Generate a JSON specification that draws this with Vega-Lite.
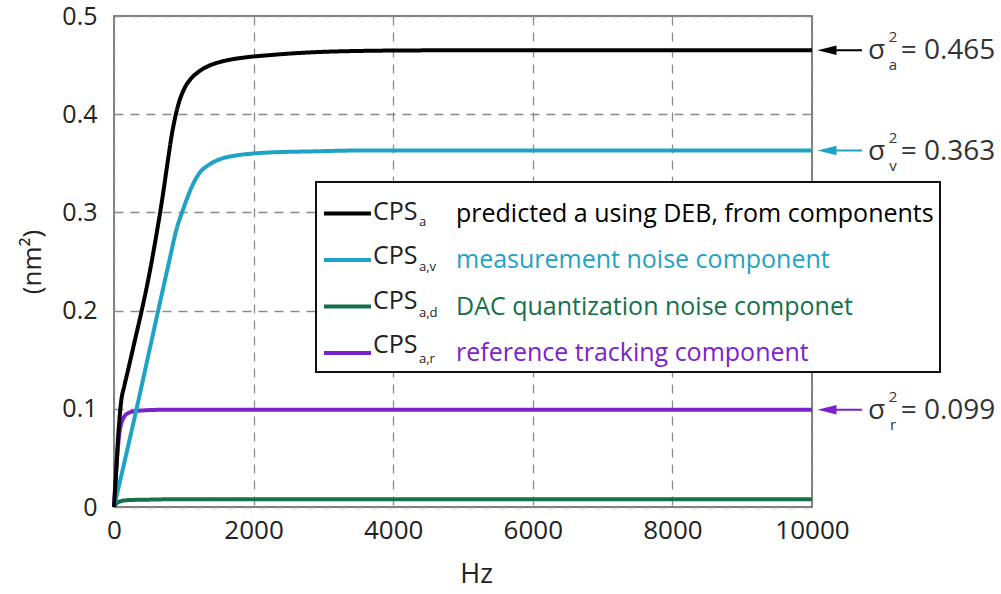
{
  "$schema": "https://vega.github.io/schema/vega-lite/v6.json",
  "width": 698,
  "height": 491,
  "autosize": {"type": "none"},
  "padding": {"left": 114, "top": 16, "right": 189, "bottom": 87},
  "background": "white",
  "config": {
    "font": "Open Sans",
    "view": {"stroke": "#555555", "strokeWidth": 1.5},
    "axis": {
      "domain": false,
      "ticks": false,
      "grid": true,
      "gridColor": "#8c8c8c",
      "gridDash": [9, 7],
      "gridWidth": 1.3,
      "labelColor": "#222222",
      "titleColor": "#222222",
      "titleFontWeight": "normal",
      "labelFont": "Open Sans",
      "titleFont": "Open Sans"
    }
  },
  "datasets": {
    "series": [
      {"s": "a", "desc": "predicted a using DEB, from components", "sub": "a"},
      {"s": "av", "desc": "measurement noise component", "sub": "a,v"},
      {"s": "ad", "desc": "DAC quantization noise componet", "sub": "a,d"},
      {"s": "ar", "desc": "reference tracking component", "sub": "a,r"}
    ],
    "notes": [
      {"s": "a", "value": 0.465, "sym": "a", "label": "= 0.465"},
      {"s": "av", "value": 0.363, "sym": "v", "label": "= 0.363"},
      {"s": "ar", "value": 0.099, "sym": "r", "label": "= 0.099"}
    ],
    "curves": [
      {"s": "ad", "hz": 0, "v": 0}, {"s": "ad", "hz": 40, "v": 0.004}, {"s": "ad", "hz": 100, "v": 0.006}, {"s": "ad", "hz": 200, "v": 0.007}, {"s": "ad", "hz": 500, "v": 0.0075}, {"s": "ad", "hz": 1000, "v": 0.008}, {"s": "ad", "hz": 10000, "v": 0.008},
      {"s": "ar", "hz": 0, "v": 0}, {"s": "ar", "hz": 25, "v": 0.03}, {"s": "ar", "hz": 50, "v": 0.055}, {"s": "ar", "hz": 75, "v": 0.074}, {"s": "ar", "hz": 100, "v": 0.084}, {"s": "ar", "hz": 130, "v": 0.09}, {"s": "ar", "hz": 170, "v": 0.094}, {"s": "ar", "hz": 215, "v": 0.096}, {"s": "ar", "hz": 300, "v": 0.0975}, {"s": "ar", "hz": 450, "v": 0.0985}, {"s": "ar", "hz": 700, "v": 0.099}, {"s": "ar", "hz": 10000, "v": 0.099},
      {"s": "av", "hz": 0, "v": 0}, {"s": "av", "hz": 160, "v": 0.049}, {"s": "av", "hz": 317, "v": 0.098}, {"s": "av", "hz": 475, "v": 0.149}, {"s": "av", "hz": 633, "v": 0.2}, {"s": "av", "hz": 790, "v": 0.25}, {"s": "av", "hz": 900, "v": 0.284}, {"s": "av", "hz": 975, "v": 0.3}, {"s": "av", "hz": 1040, "v": 0.313}, {"s": "av", "hz": 1120, "v": 0.327}, {"s": "av", "hz": 1223, "v": 0.34}, {"s": "av", "hz": 1350, "v": 0.348}, {"s": "av", "hz": 1511, "v": 0.354}, {"s": "av", "hz": 1750, "v": 0.358}, {"s": "av", "hz": 2000, "v": 0.36}, {"s": "av", "hz": 2400, "v": 0.3615}, {"s": "av", "hz": 2763, "v": 0.362}, {"s": "av", "hz": 3500, "v": 0.363}, {"s": "av", "hz": 10000, "v": 0.363},
      {"s": "a", "hz": 0, "v": 0}, {"s": "a", "hz": 30, "v": 0.035}, {"s": "a", "hz": 60, "v": 0.072}, {"s": "a", "hz": 100, "v": 0.106}, {"s": "a", "hz": 150, "v": 0.124}, {"s": "a", "hz": 200, "v": 0.139}, {"s": "a", "hz": 300, "v": 0.17}, {"s": "a", "hz": 400, "v": 0.201}, {"s": "a", "hz": 489, "v": 0.231}, {"s": "a", "hz": 590, "v": 0.27}, {"s": "a", "hz": 690, "v": 0.313}, {"s": "a", "hz": 770, "v": 0.352}, {"s": "a", "hz": 830, "v": 0.38}, {"s": "a", "hz": 880, "v": 0.398}, {"s": "a", "hz": 935, "v": 0.413}, {"s": "a", "hz": 1000, "v": 0.425}, {"s": "a", "hz": 1100, "v": 0.436}, {"s": "a", "hz": 1209, "v": 0.443}, {"s": "a", "hz": 1350, "v": 0.449}, {"s": "a", "hz": 1511, "v": 0.453}, {"s": "a", "hz": 1700, "v": 0.456}, {"s": "a", "hz": 1900, "v": 0.458}, {"s": "a", "hz": 2200, "v": 0.46}, {"s": "a", "hz": 2576, "v": 0.462}, {"s": "a", "hz": 3000, "v": 0.4635}, {"s": "a", "hz": 3500, "v": 0.4644}, {"s": "a", "hz": 4500, "v": 0.465}, {"s": "a", "hz": 10000, "v": 0.465}
    ]
  },
  "layer": [
    {
      "data": {"name": "curves"},
      "transform": [
        {"lookup": "s", "from": {"data": {"name": "series"}, "key": "s", "fields": ["desc", "sub"]}}
      ],
      "mark": {"type": "line", "strokeWidth": 4, "interpolate": "monotone"},
      "encoding": {
        "x": {
          "field": "hz", "type": "quantitative",
          "scale": {"domain": [0, 10000], "nice": false, "zero": false},
          "axis": {
            "title": "Hz", "values": [0, 2000, 4000, 6000, 8000, 10000], "format": "d",
            "labelFontSize": 26, "labelPadding": 10, "titleFontSize": 27,
            "titleX": 362, "titleY": 54, "titleBaseline": "top", "labelFlush": false
          }
        },
        "y": {
          "field": "v", "type": "quantitative",
          "scale": {"domain": [0, 0.5], "nice": false},
          "axis": {
            "title": "(nm²)", "values": [0, 0.1, 0.2, 0.3, 0.4, 0.5],
            "labelExpr": "datum.value == 0 ? '0' : format(datum.value, '.1f')",
            "labelFontSize": 25, "labelPadding": 17, "titleFontSize": 26, "titlePadding": 16
          }
        },
        "color": {
          "field": "desc", "type": "nominal",
          "scale": {
            "domain": ["predicted a using DEB, from components", "measurement noise component", "DAC quantization noise componet", "reference tracking component"],
            "range": ["#000000", "#1fa3c4", "#17704a", "#7a22cc"]
          },
          "legend": {
            "orient": "none", "legendX": 202, "legendY": 166, "title": null,
            "symbolType": "stroke", "symbolSize": 2209, "symbolStrokeWidth": 4,
            "labelOffset": 83, "labelFontSize": 25, "labelFont": "Open Sans", "labelLimit": 0,
            "padding": 6, "rowPadding": 7.5, "strokeColor": "#111111", "fillColor": "white",
            "zindex": 0,
            "encode": {
              "labels": {"update": {"fill": {"scale": "color", "field": "value"}}},
              "legend": {"update": {"strokeWidth": {"value": 2}}}
            }
          }
        },
        "strokeDash": {
          "field": "s", "type": "nominal",
          "scale": {"domain": ["a", "av", "ad", "ar"], "range": [[1, 0], [1, 0], [1, 0], [1, 0]]},
          "legend": {
            "orient": "none", "legendX": 202, "legendY": 166, "title": null,
            "symbolType": "stroke", "symbolSize": 2209, "symbolStrokeWidth": 0, "symbolOpacity": 0,
            "labelOffset": 4, "labelExpr": "'CPS'", "labelFontSize": 25, "labelFont": "Open Sans", "labelColor": "#222222",
            "padding": 6, "rowPadding": 7.5, "zindex": 1,
            "encode": {"symbols": {"update": {"opacity": {"value": 0}}}}
          }
        },
        "opacity": {
          "field": "sub", "type": "nominal",
          "scale": {"domain": ["a", "a,v", "a,d", "a,r"], "range": [1, 1]},
          "legend": {
            "orient": "none", "legendX": 202, "legendY": 176, "title": null,
            "symbolType": "stroke", "symbolSize": 2209, "symbolStrokeWidth": 0, "symbolOpacity": 0,
            "labelOffset": 50, "labelFontSize": 13, "labelFont": "Open Sans", "labelColor": "#222222",
            "padding": 6, "rowPadding": 14.7, "zindex": 1,
            "encode": {"symbols": {"update": {"opacity": {"value": 0}}}}
          }
        }
      }
    },
    {
      "data": {"name": "notes"},
      "transform": [{"lookup": "s", "from": {"data": {"name": "series"}, "key": "s", "fields": ["desc"]}}],
      "mark": {"type": "rule", "strokeWidth": 2},
      "encoding": {
        "x": {"datum": 10215},
        "x2": {"datum": 10716},
        "y": {"field": "value", "type": "quantitative"},
        "color": {"field": "desc", "type": "nominal", "legend": null}
      }
    },
    {
      "data": {"name": "notes"},
      "transform": [{"lookup": "s", "from": {"data": {"name": "series"}, "key": "s", "fields": ["desc"]}}],
      "mark": {"type": "point", "shape": "M -1 0 L 1 -0.5 L 1 0.5 Z", "filled": true, "size": 361, "opacity": 1},
      "encoding": {
        "x": {"datum": 10215},
        "y": {"field": "value", "type": "quantitative"},
        "color": {"field": "desc", "type": "nominal", "legend": null}
      }
    },
    {
      "data": {"name": "notes"},
      "mark": {"type": "text", "text": "σ", "align": "left", "baseline": "alphabetic", "dy": 9, "fontSize": 28, "color": "#333333"},
      "encoding": {
        "x": {"datum": 10802},
        "y": {"field": "value", "type": "quantitative"}
      }
    },
    {
      "data": {"name": "notes"},
      "mark": {"type": "text", "text": "2", "align": "center", "baseline": "alphabetic", "dy": -8, "fontSize": 15, "color": "#333333"},
      "encoding": {
        "x": {"datum": 11160},
        "y": {"field": "value", "type": "quantitative"}
      }
    },
    {
      "data": {"name": "notes"},
      "mark": {"type": "text", "align": "center", "baseline": "alphabetic", "dy": 20, "fontSize": 15, "color": "#333333"},
      "encoding": {
        "x": {"datum": 11160},
        "y": {"field": "value", "type": "quantitative"},
        "text": {"field": "sym"}
      }
    },
    {
      "data": {"name": "notes"},
      "mark": {"type": "text", "align": "left", "baseline": "alphabetic", "dy": 9, "fontSize": 28, "color": "#333333"},
      "encoding": {
        "x": {"datum": 11270},
        "y": {"field": "value", "type": "quantitative"},
        "text": {"field": "label"}
      }
    }
  ]
}
